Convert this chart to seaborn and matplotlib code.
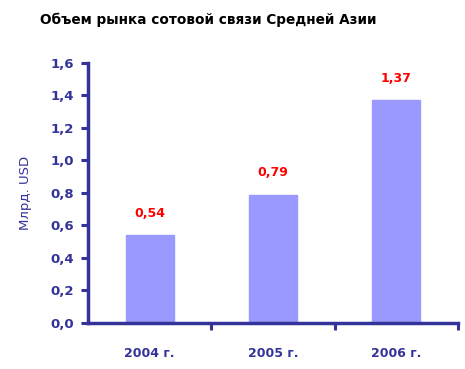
import matplotlib
matplotlib.use("Agg")
import matplotlib.pyplot as plt
import seaborn as sns

years = ["2004 г.", "2005 г.", "2006 г."]
volume = [0.54, 0.79, 1.37]
value_labels = ["0,54", "0,79", "1,37"]
y_ticks = [0.0, 0.2, 0.4, 0.6, 0.8, 1.0, 1.2, 1.4, 1.6]
y_tick_labels = ["0,0", "0,2", "0,4", "0,6", "0,8", "1,0", "1,2", "1,4", "1,6"]

navy = "#333399"
bar_color = "#9999FF"

sns.set_theme(style="white")
plt.rcParams['font.family'] = ['DejaVu Sans']

fig = plt.figure(figsize=(4.65, 3.69), dpi=100)
ax = fig.add_axes([0.189, 0.1247, 0.796, 0.7046])

sns.barplot(x=years, y=volume, color=bar_color, width=0.39, saturation=1,
            edgecolor=bar_color, ax=ax)

ax.set_xlim(-0.5, 2.5)
ax.set_ylim(0, 1.6)
ax.set_yticks(y_ticks)
ax.set_yticklabels(y_tick_labels, color=navy, fontsize=9.5, fontweight="bold")
ax.set_xticks([0, 1, 2])
ax.set_xticklabels(years, color=navy, fontsize=9, fontweight="bold")
ax.set_xticks([0.5, 1.5, 2.5], minor=True)
ax.tick_params(axis="x", which="major", length=0, pad=17)
ax.tick_params(axis="x", which="minor", length=5, width=2.2, color=navy, direction="out", bottom=True)
ax.tick_params(axis="y", length=5, width=2.2, color=navy, direction="out", left=True, pad=5)

for side in ["top", "right"]:
    ax.spines[side].set_visible(False)
for side in ["left", "bottom"]:
    ax.spines[side].set_color(navy)
    ax.spines[side].set_linewidth(2.5)

for i, (v, lab) in enumerate(zip(volume, value_labels)):
    ax.annotate(lab, (i, v), xytext=(0, 16), textcoords="offset points",
                ha="center", va="center", color="#FF0000", fontsize=9, fontweight="bold")

ax.set_ylabel("Млрд. USD", color=navy, fontsize=9.5, labelpad=13)
ax.set_xlabel("")

fig.text(40 / 465, 1 - 20 / 369, "Объем рынка сотовой связи Средней Азии",
         fontsize=9.8, fontweight="bold", color="black", va="center", ha="left")

fig.savefig("out.png", dpi=100, facecolor="white")
